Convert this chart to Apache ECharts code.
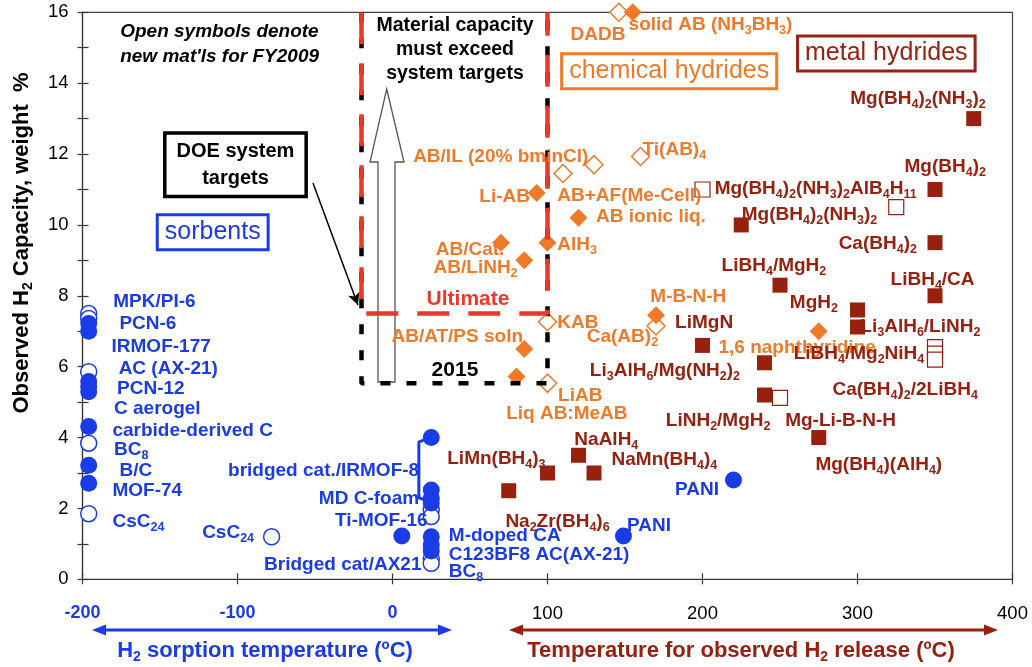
<!DOCTYPE html>
<html>
<head>
<meta charset="utf-8">
<script src="https://cdn.jsdelivr.net/npm/echarts@6/dist/echarts.min.js"></script>
<style>
  html, body { margin: 0; padding: 0; background: #fff; }
  #chart { width: 1032px; height: 667px; }
</style>
</head>
<body>
<div id="chart"></div>
<script>
// axis ticks
const xTicks = [-200, -100, 0, 100, 200, 300, 400]
const yTicks = [0, 2, 4, 6, 8, 10, 12, 14, 16]

// sorbents (blue circles) [temperature, wt%]
const sorbentFilled = [
  [-196, 7.22], [-196, 7.0], [-196, 5.58], [-196, 5.43], [-196, 5.29],
  [-196, 4.31], [-196, 3.22], [-196, 2.71],
  [6, 1.22], [25, 4.0], [25, 2.52], [25, 2.29], [25, 2.15],
  [25, 1.2], [25, 0.97], [25, 0.8], [149, 1.22], [220, 2.8]
]
const sorbentOpen = [
  [-196, 7.5], [-196, 7.36], [-196, 5.86], [-196, 3.84], [-196, 1.85],
  [-78, 1.2], [25, 1.96], [25, 1.77], [25, 0.58], [25, 0.45]
]

// chemical hydrides (orange diamonds)
const chemFilled = [
  [155, 16.0], [93, 10.9], [120, 10.2], [70, 9.5], [85, 9.0], [100, 9.5],
  [170, 7.45], [85, 6.5], [80, 5.72], [275, 7.0]
]
const chemOpen = [
  [146, 16.0], [110, 11.45], [130, 11.7], [160, 11.93], [100, 7.27],
  [170, 7.15], [100, 5.53]
]

// metal hydrides (dark red squares)
const metalFilled = [
  [375, 13.0], [350, 11.0], [225, 10.0], [350, 9.5], [250, 8.3], [350, 8.0],
  [300, 7.6], [300, 7.12], [200, 6.6], [240, 6.11], [240, 5.2], [275, 4.0],
  [120, 3.5], [100, 3.0], [130, 3.0], [75, 2.5]
]
const metalOpen = [
  [200, 11.0], [325, 10.5], [350, 6.55], [350, 6.37], [350, 6.2], [250, 5.12]
]

// DOE targets (dashed outlines)
const target2015 = [[-20, 16], [-20, 5.53], [100, 5.53], [100, 16]]
const targetUltimate = [[-20, 16], [-20, 7.5], [100, 7.5], [100, 16]]
const bracketLine = [[25, 4.0], [17, 3.88], [17, 2.3], [25, 2.18]]
const doeArrow = [[-51.3, 11.18], [-22.3, 7.74]]

// point labels [text, x, y, anchor]
const sorbentLabels = [
  ['MPK/PI-6', -180.5, 7.82, 'l'],
  ['PCN-6', -176.5, 7.2, 'l'],
  ['IRMOF-177', -181.6, 6.55, 'l'],
  ['AC (AX-21)', -177, 5.93, 'l'],
  ['PCN-12', -178, 5.39, 'l'],
  ['C aerogel', -180, 4.8, 'l'],
  ['carbide-derived C', -181, 4.19, 'l'],
  ['BC{sb|8}', -180, 3.65, 'l'],
  ['B/C', -176.5, 3.06, 'l'],
  ['MOF-74', -181, 2.5, 'l'],
  ['CsC{sb|24}', -181, 1.63, 'l'],
  ['CsC{sb|24}', -89, 1.3, 'r'],
  ['bridged cat./IRMOF-8', 17.5, 3.06, 'r'],
  ['MD C-foam', 17.5, 2.27, 'r'],
  ['Ti-MOF-16', 23, 1.65, 'r'],
  ['Bridged cat/AX21', 19, 0.4, 'r'],
  ['M-doped CA', 36, 1.22, 'l'],
  ['C123BF8 AC(AX-21)', 36, 0.69, 'l'],
  ['BC{sb|8}', 36, 0.21, 'l'],
  ['PANI', 151, 1.5, 'l'],
  ['PANI', 211, 2.54, 'r']
]
const chemLabels = [
  ['DADB', 114.5, 15.36, 'l'],
  ['solid AB (NH{so|3}BH{so|3})', 152, 15.64, 'l'],
  ['AB/IL (20% bminCl)', 13, 11.92, 'l'],
  ['Ti(AB){so|4}', 161, 12.11, 'l'],
  ['Li-AB', 89, 10.79, 'r'],
  ['AB+AF(Me-Cell)', 106, 10.82, 'l'],
  ['AB ionic liq.', 131, 10.23, 'l'],
  ['AB/Cat.', 72.5, 9.31, 'r'],
  ['AB/LiNH{so|2}', 81, 8.78, 'r'],
  ['AlH{so|3}', 106, 9.43, 'l'],
  ['KAB', 106, 7.24, 'l'],
  ['M-B-N-H', 166, 7.97, 'l'],
  ['Ca(AB){so|2}', 125, 6.83, 'l'],
  ['AB/AT/PS soln', -1, 6.83, 'l'],
  ['LiAB', 106.5, 5.17, 'l'],
  ['Liq AB:MeAB', 73, 4.66, 'l'],
  ['1,6 naphthyridine', 210, 6.53, 'l']
]
const metalLabels = [
  ['Mg(BH{sr|4}){sr|2}(NH{sr|3}){sr|2}', 295, 13.57, 'l'],
  ['Mg(BH{sr|4}){sr|2}', 330, 11.64, 'l'],
  ['Mg(BH{sr|4}){sr|2}(NH{sr|3}){sr|2}AlB{sr|4}H{sr|11}', 207.5, 11.03, 'l'],
  ['Mg(BH{sr|4}){sr|2}(NH{sr|3}){sr|2}', 225, 10.28, 'l'],
  ['Ca(BH{sr|4}){sr|2}', 287.5, 9.48, 'l'],
  ['LiBH{sr|4}/MgH{sr|2}', 212, 8.85, 'l'],
  ['LiBH{sr|4}/CA', 321, 8.45, 'l'],
  ['MgH{sr|2}', 256, 7.8, 'l'],
  ['Li{sr|3}AlH{sr|6}/LiNH{sr|2}', 301.5, 7.13, 'l'],
  ['LiMgN', 182, 7.24, 'l'],
  ['Li{sr|3}AlH{sr|6}/Mg(NH{sr|2}){sr|2}', 127, 5.88, 'l'],
  ['LiBH{sr|4}/Mg{sr|2}NiH{sr|4}', 258.5, 6.36, 'l'],
  ['Ca(BH{sr|4}){sr|2}/2LiBH{sr|4}', 283.5, 5.36, 'l'],
  ['LiNH{sr|2}/MgH{sr|2}', 176, 4.48, 'l'],
  ['Mg-Li-B-N-H', 253, 4.48, 'l'],
  ['Mg(BH{sr|4})(AlH{sr|4})', 272.5, 3.23, 'l'],
  ['NaAlH{sr|4}', 117, 3.93, 'l'],
  ['LiMn(BH{sr|4}){sr|3}', 35, 3.41, 'l'],
  ['NaMn(BH{sr|4}){sr|4}', 141, 3.37, 'l'],
  ['Na{sr|2}Zr(BH{sr|4}){sr|6}', 72.5, 1.63, 'l']
]
const noteLabels = [
  ['Open symbols denote', -176, 15.44, 'l'],
  ["new mat'ls for FY2009", -176, 14.74, 'l']
]

const BLUE = '#1a3ce6'
const ORANGE = '#ee7a2a'
const DARKRED = '#98200f'
const RED = '#e8392a'
const FONT = "'Liberation Sans', Arial, sans-serif"

function subStyle(color, size, pad) {
  return {
    color: color, fontSize: size || 12.5, fontWeight: 'bold', fontFamily: FONT,
    verticalAlign: 'top', padding: [pad || 11.5, 0, 0, 0]
  }
}
const rich = {
  sb: subStyle(BLUE), so: subStyle(ORANGE), sr: subStyle(DARKRED), sk: subStyle('#000')
}

function labelItems(list, color, extra) {
  return list.map(function (row) {
    const text = row[0]
    const anchor = row[3]
    return {
      value: [row[1], row[2]],
      label: Object.assign({
        show: true,
        formatter: function () { return text },
        position: anchor === 'r' ? 'left' : (anchor === 'c' ? 'inside' : 'right'),
        distance: 0,
        color: color,
        fontSize: 19,
        fontWeight: 'bold',
        fontFamily: FONT,
        rich: rich
      }, extra || {})
    }
  })
}

function boxItem(text, x, y, color, opts) {
  return {
    value: [x, y],
    label: Object.assign({
      show: true,
      formatter: function () { return text },
      position: 'inside',
      color: color,
      fontSize: 25,
      fontFamily: FONT,
      borderColor: color,
      borderWidth: 3,
      backgroundColor: '#fff',
      padding: [4, 6, 3, 6]
    }, opts || {})
  }
}

const annotationData = []
  .concat(labelItems(chemLabels, ORANGE))
  .concat(labelItems(sorbentLabels, BLUE))
  .concat(labelItems(metalLabels, DARKRED))
  .concat(labelItems(noteLabels, '#000', { fontStyle: 'italic', fontSize: 19 }))
  .concat([
    boxItem('sorbents', -116, 9.79, BLUE),
    boxItem('chemical hydrides', 178.5, 14.34, ORANGE),
    boxItem('metal hydrides', 318.6, 14.84, DARKRED),
    boxItem('DOE system\ntargets', -101.3, 11.7, '#000', {
      fontSize: 20, fontWeight: 'bold', lineHeight: 27, borderWidth: 3.5, padding: [3, 10, 3, 10]
    }),
    boxItem('Material capacity\nmust exceed\nsystem targets', 40.3, 14.96, '#000', {
      fontSize: 19.5, fontWeight: 'bold', lineHeight: 24, borderWidth: 0, backgroundColor: 'transparent', padding: 0
    }),
    boxItem('Ultimate', 48.7, 7.91, RED, {
      fontSize: 21, fontWeight: 'bold', borderWidth: 0, backgroundColor: 'transparent', padding: 0
    }),
    boxItem('2015', 40.3, 5.89, '#000', {
      fontSize: 21, fontWeight: 'bold', borderWidth: 0, backgroundColor: 'transparent', padding: 0
    })
  ])

const chart = echarts.init(document.getElementById('chart'))

const axisLineStyle = { color: '#333', width: 1.2 }

const option = {
  animation: false,
  backgroundColor: '#fff',
  grid: {
    left: 82.5, right: 19.5, top: 12.3, bottom: 87.7,
    show: true, borderColor: '#444', borderWidth: 1.2
  },
  xAxis: [{
    type: 'value', min: xTicks[0], max: xTicks[xTicks.length - 1], interval: 100,
    position: 'bottom',
    axisLine: { onZero: false, lineStyle: axisLineStyle },
    axisTick: { inside: true, length: 6, lineStyle: axisLineStyle },
    splitLine: { show: false },
    axisLabel: {
      margin: 25,
      formatter: function (v) { return v <= 0 ? '{b|' + v + '}' : '{k|' + v + '}' },
      rich: {
        b: { color: BLUE, fontWeight: 'bold', fontSize: 18, fontFamily: FONT },
        k: { color: '#000', fontSize: 18.5, fontFamily: FONT }
      }
    }
  }, {
    type: 'value', min: xTicks[0], max: xTicks[xTicks.length - 1], interval: 100,
    position: 'bottom',
    axisLine: { show: false, onZero: false },
    axisTick: { inside: false, length: 5, lineStyle: axisLineStyle },
    splitLine: { show: false },
    axisLabel: { show: false }
  }],
  yAxis: [{
    type: 'value', min: yTicks[0], max: yTicks[yTicks.length - 1], interval: 2,
    position: 'left',
    axisLine: { show: true, onZero: false, lineStyle: axisLineStyle },
    axisTick: { show: true, inside: true, length: 6, lineStyle: axisLineStyle },
    minorTick: { show: true, splitNumber: 2, length: 6, lineStyle: axisLineStyle },
    splitLine: { show: false },
    axisLabel: { margin: 14, color: '#000', fontSize: 18.5, fontFamily: FONT }
  }, {
    type: 'value', min: yTicks[0], max: yTicks[yTicks.length - 1], interval: 2,
    position: 'left',
    axisLine: { show: false, onZero: false },
    axisTick: { show: true, inside: false, length: 5, lineStyle: axisLineStyle },
    minorTick: { show: true, splitNumber: 2, length: 5, lineStyle: axisLineStyle },
    splitLine: { show: false },
    axisLabel: { show: false }
  }],
  graphic: [
    // hollow arrow "material capacity must exceed"
    {
      type: 'polygon', z: 1,
      shape: { points: [[386.7, 89], [404, 162], [395, 162], [395, 382], [378, 382], [378, 162], [370, 162]] },
      style: { fill: '#fff', stroke: '#555', lineWidth: 1.3 }
    },
    // sorption temperature arrow
    { type: 'line', shape: { x1: 100, y1: 630, x2: 444, y2: 630 }, style: { stroke: BLUE, lineWidth: 3 } },
    { type: 'polygon', shape: { points: [[92, 630], [106, 624.5], [106, 635.5]] }, style: { fill: BLUE } },
    { type: 'polygon', shape: { points: [[452, 630], [438, 624.5], [438, 635.5]] }, style: { fill: BLUE } },
    // release temperature arrow
    { type: 'line', shape: { x1: 516, y1: 630, x2: 990, y2: 630 }, style: { stroke: DARKRED, lineWidth: 3 } },
    { type: 'polygon', shape: { points: [[509, 630], [523, 624.5], [523, 635.5]] }, style: { fill: DARKRED } },
    { type: 'polygon', shape: { points: [[998, 630], [984, 624.5], [984, 635.5]] }, style: { fill: DARKRED } },
    {
      type: 'text', x: 265, y: 651,
      style: {
        text: 'H{s|2} sorption temperature (ºC)',
        fill: BLUE, font: 'bold 22px ' + FONT, align: 'center', verticalAlign: 'middle',
        rich: { s: { fill: BLUE, font: 'bold 14px ' + FONT, verticalAlign: 'top', padding: [13, 0, 0, 0] } }
      }
    },
    {
      type: 'text', x: 741, y: 651,
      style: {
        text: 'Temperature for observed H{s|2} release (ºC)',
        fill: DARKRED, font: 'bold 22px ' + FONT, align: 'center', verticalAlign: 'middle',
        rich: { s: { fill: DARKRED, font: 'bold 14px ' + FONT, verticalAlign: 'top', padding: [13, 0, 0, 0] } }
      }
    },
    // y axis title
    {
      type: 'text', x: 22, y: 243, rotation: Math.PI / 2,
      style: {
        text: 'Observed H{s|2} Capacity, weight  %',
        fill: '#000', font: 'bold 22px ' + FONT, align: 'center', verticalAlign: 'middle',
        rich: { s: { fill: '#000', font: 'bold 14px ' + FONT, verticalAlign: 'top', padding: [13, 0, 0, 0] } }
      }
    }
  ],
  series: [
    {
      name: '2015', type: 'line', data: target2015, showSymbol: false, clip: false, silent: true,
      lineStyle: { color: '#000', width: 4.5, type: [10, 16] }
    },
    {
      name: 'Ultimate', type: 'line', data: targetUltimate, showSymbol: false, clip: false, silent: true,
      lineStyle: { color: RED, width: 4.5, type: [32, 19] }
    },
    {
      name: 'bracket', type: 'line', data: bracketLine, showSymbol: false, clip: false, silent: true,
      lineStyle: { color: BLUE, width: 3 }
    },
    {
      name: 'doe arrow', type: 'line', data: [], silent: true,
      markLine: {
        silent: true, symbol: ['none', 'arrow'], symbolSize: [9, 12],
        lineStyle: { color: '#000', width: 1.5, type: 'solid' },
        label: { show: false },
        data: [[{ coord: doeArrow[0] }, { coord: doeArrow[1] }]]
      }
    },
    {
      name: 'sorbents new', type: 'scatter', data: sorbentOpen, symbol: 'circle', symbolSize: 16, clip: false,
      itemStyle: { color: '#fff', borderColor: BLUE, borderWidth: 1.5, opacity: 1 }
    },
    {
      name: 'sorbents', type: 'scatter', data: sorbentFilled, symbol: 'circle', symbolSize: 17, clip: false,
      itemStyle: { color: BLUE, opacity: 1 }
    },
    {
      name: 'chemical new', type: 'scatter', data: chemOpen, symbol: 'diamond', symbolSize: 18, clip: false,
      itemStyle: { color: '#fff', borderColor: ORANGE, borderWidth: 1.5, opacity: 1 }
    },
    {
      name: 'chemical', type: 'scatter', data: chemFilled, symbol: 'diamond', symbolSize: 18, clip: false,
      itemStyle: { color: ORANGE, opacity: 1 }
    },
    {
      name: 'metal', type: 'scatter', data: metalFilled, symbol: 'rect', symbolSize: 15, clip: false,
      itemStyle: { color: DARKRED, opacity: 1 }
    },
    {
      name: 'metal new', type: 'scatter', data: metalOpen, symbol: 'rect', symbolSize: 15, clip: false,
      itemStyle: { color: '#fff', borderColor: DARKRED, borderWidth: 1.2, opacity: 1 }
    },
    {
      name: 'labels', type: 'scatter', data: annotationData, symbolSize: 1, clip: false, silent: true,
      itemStyle: { color: 'rgba(0,0,0,0)', opacity: 1 }, z: 5
    }
  ]
}

chart.setOption(option)
</script>
</body>
</html>
